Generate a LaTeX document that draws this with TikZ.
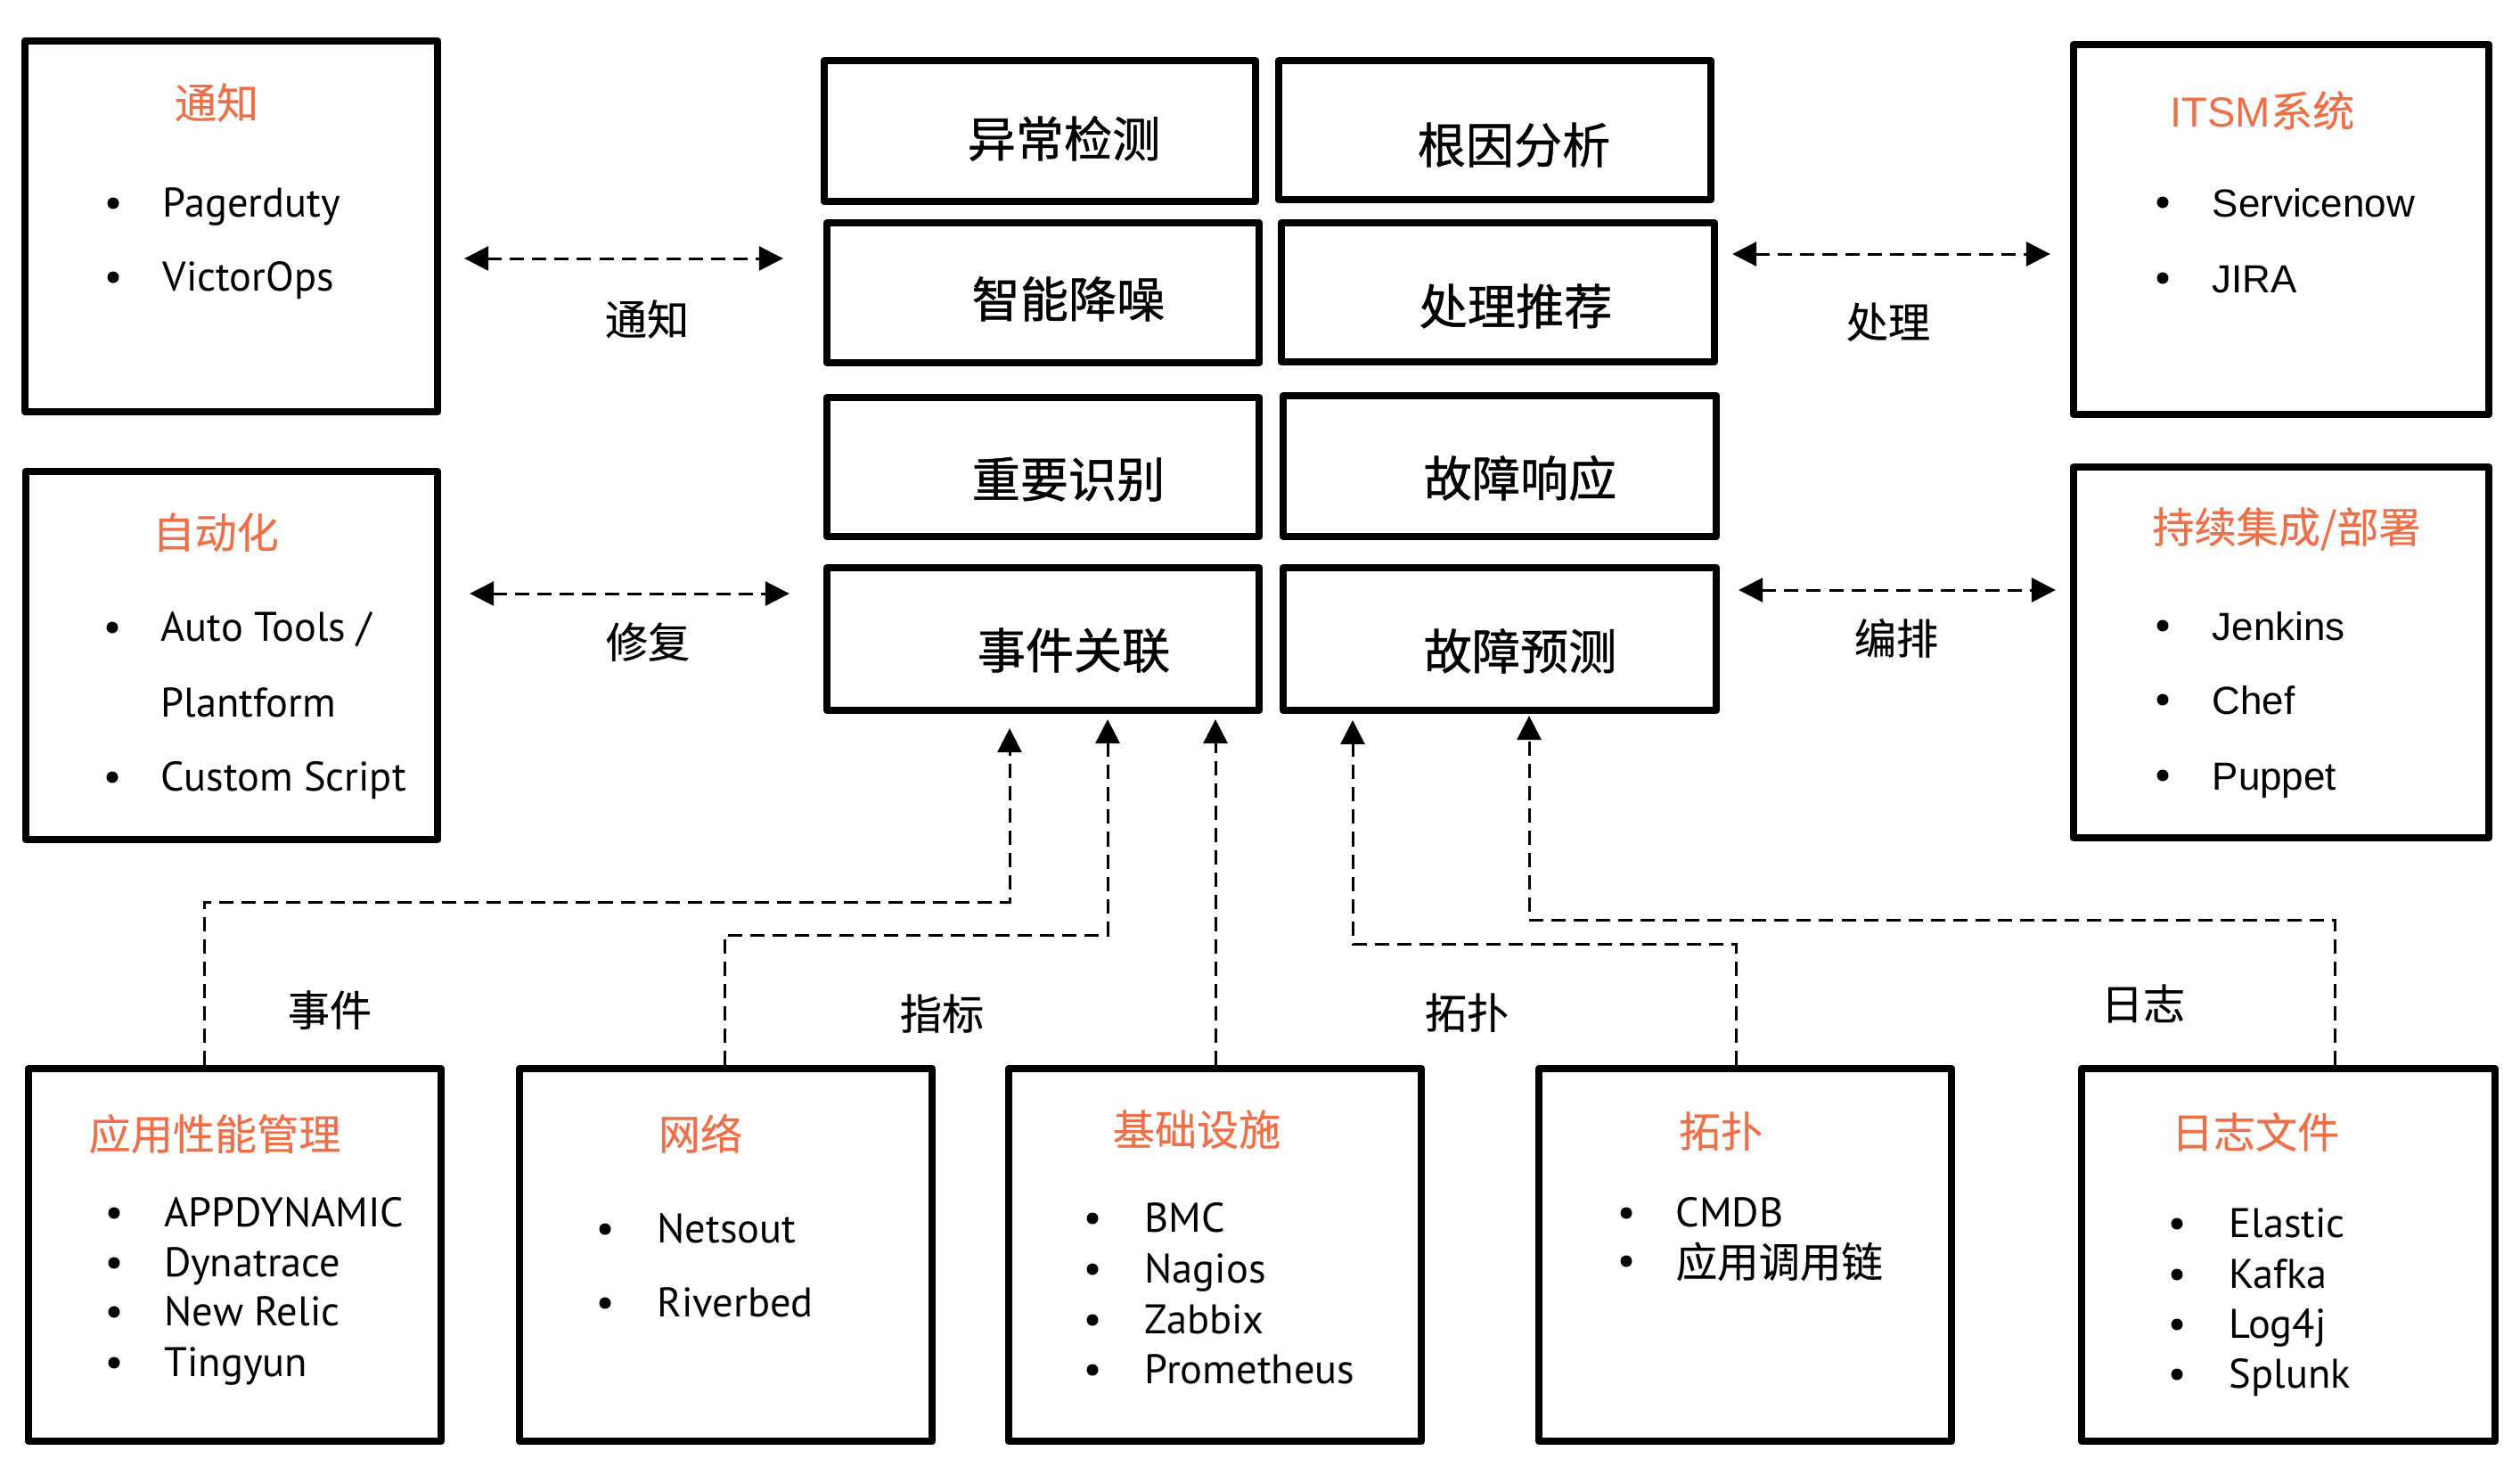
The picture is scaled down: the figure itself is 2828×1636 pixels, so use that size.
\documentclass[tikz,border=0pt]{standalone}
\usepackage{fontspec}
\setmainfont{Noto Sans CJK SC}
\newfontfamily\cjk{Noto Sans CJK SC}[FakeBold=0.3]
\newfontfamily\cjkb{Noto Sans CJK SC}[FakeBold=0.9]
\newfontfamily\pts{PT Sans}
\newfontfamily\lib{Liberation Sans}
\usetikzlibrary{arrows.meta}
\definecolor{orng}{RGB}{237,112,72}
\tikzset{
  box/.style={draw, line width=0.08cm, line join=round, inner sep=0pt},
  ttl/.style={font=\cjk\fontsize{13.4}{16}\selectfont, text=orng, anchor=base, inner sep=0pt},
  lbl/.style={font=\cjk\fontsize{13.4}{16}\selectfont, anchor=base, inner sep=0pt},
  midtxt/.style={font=\cjkb\fontsize{15.4}{18}\selectfont, anchor=base, inner sep=0pt},
  itm/.style={font=\pts\fontsize{13.2}{16}\selectfont, anchor=base west, inner sep=0pt},
  itc/.style={font=\cjk\fontsize{13.2}{16}\selectfont, anchor=base west, inner sep=0pt},
  itr/.style={font=\lib\fontsize{12.5}{15}\selectfont, anchor=base west, inner sep=0pt},
  dsh/.style={line width=0.03cm, dash pattern=on 0.16cm off 0.09cm},
  conn/.style={dsh, -{Triangle[length=0.27cm,width=0.27cm]}},
  biarr/.style={dsh, {Triangle[length=0.27cm,width=0.27cm]}-{Triangle[length=0.27cm,width=0.27cm]}},
  dot/.style={radius=0.065cm}
}
\begin{document}
\begin{tikzpicture}[x=0.01cm,y=-0.01cm]
\useasboundingbox (0,0) rectangle (2828,1636);
% ---------- boxes ----------
\node[box, minimum width=4.63cm, minimum height=4.16cm] (L1) at (259.5,254) {};
\node[box, minimum width=4.62cm, minimum height=4.13cm] (L2) at (260,735.5) {};
\node[box, minimum width=4.66cm, minimum height=4.15cm] (R1) at (2560,257.5) {};
\node[box, minimum width=4.66cm, minimum height=4.16cm] (R2) at (2560,732) {};
\node[box, minimum width=4.84cm, minimum height=1.58cm] (C1) at (1167,147) {};
\node[box, minimum width=4.85cm, minimum height=1.56cm] (C2) at (1677.5,146) {};
\node[box, minimum width=4.85cm, minimum height=1.57cm] (C3) at (1170.5,328.5) {};
\node[box, minimum width=4.86cm, minimum height=1.56cm] (C4) at (1681,328) {};
\node[box, minimum width=4.85cm, minimum height=1.56cm] (C5) at (1170.5,524) {};
\node[box, minimum width=4.86cm, minimum height=1.58cm] (C6) at (1683,523) {};
\node[box, minimum width=4.85cm, minimum height=1.60cm] (C7) at (1170.5,717) {};
\node[box, minimum width=4.86cm, minimum height=1.60cm] (C8) at (1683,717) {};
\node[box, minimum width=4.63cm, minimum height=4.18cm] (B1) at (263.5,1408) {};
\node[box, minimum width=4.63cm, minimum height=4.18cm] (B2) at (814.5,1408) {};
\node[box, minimum width=4.63cm, minimum height=4.18cm] (B3) at (1363.5,1408) {};
\node[box, minimum width=4.63cm, minimum height=4.18cm] (B4) at (1958.5,1408) {};
\node[box, minimum width=4.64cm, minimum height=4.18cm] (B5) at (2568,1408) {};
% ---------- centre texts ----------
\node[midtxt] (c1t) at (1194,176) {异常检测};
\node[midtxt] (c2t) at (1699,183) {根因分析};
\node[midtxt] (c3t) at (1199,356) {智能降噪};
\node[midtxt] (c4t) at (1701,364) {处理推荐};
\node[midtxt] (c5t) at (1199,558) {重要识别};
\node[midtxt] (c6t) at (1706,557) {故障响应};
\node[midtxt] (c7t) at (1205,750) {事件关联};
\node[midtxt] (c8t) at (1706,751) {故障预测};
% ---------- titles ----------
\node[ttl] (l1t) at (243,133) {通知};
\node[ttl] (l2t) at (242,615) {自动化};
\node[ttl] (r1t) at (2539,142) {{\lib ITSM}系统};
\node[ttl] (r2t) at (2566,609) {持续集成/部署};
\node[ttl] (b1t) at (241,1290) {应用性能管理};
\node[ttl] (b2t) at (786,1290) {网络};
\node[ttl] (b3t) at (1343,1285) {基础设施};
\node[ttl] (b4t) at (1931,1287) {拓扑};
\node[ttl] (b5t) at (2531,1288) {日志文件};
% ---------- list items ----------
\node[itm] (l1a) at (182,243) {Pagerduty};
\node[itm] (l1b) at (182,326) {VictorOps};
\fill (127,228) circle[dot]; \fill (127,311) circle[dot];
\node[itm] (l2a) at (180,719) {Auto Tools /};
\node[itm] (l2b) at (180,804) {Plantform};
\node[itm] (l2c) at (180,887) {Custom Script};
\fill (126,704) circle[dot]; \fill (126,872) circle[dot];
\node[itr] (r1a) at (2482,243) {Servicenow};
\node[itr] (r1b) at (2482,328) {JIRA};
\fill (2427,227) circle[dot]; \fill (2427,312) circle[dot];
\node[itr] (r2a) at (2482,718) {Jenkins};
\node[itr] (r2b) at (2482,801) {Chef};
\node[itr] (r2c) at (2482,886) {Puppet};
\fill (2427,702) circle[dot]; \fill (2427,785) circle[dot]; \fill (2427,870) circle[dot];
\node[itm] (b1a) at (184,1376) {APPDYNAMIC};
\node[itm] (b1b) at (184,1432) {Dynatrace};
\node[itm] (b1c) at (184,1487) {New Relic};
\node[itm] (b1d) at (184,1544) {Tingyun};
\fill (128,1361) circle[dot]; \fill (128,1417) circle[dot]; \fill (128,1472) circle[dot]; \fill (128,1529) circle[dot];
\node[itm] (b2a) at (737,1394) {Netsout};
\node[itm] (b2b) at (737,1477) {Riverbed};
\fill (679,1379) circle[dot]; \fill (679,1462) circle[dot];
\node[itm] (b3a) at (1284,1382) {BMC};
\node[itm] (b3b) at (1284,1439) {Nagios};
\node[itm] (b3c) at (1284,1496) {Zabbix};
\node[itm] (b3d) at (1284,1552) {Prometheus};
\fill (1226,1367) circle[dot]; \fill (1226,1424) circle[dot]; \fill (1226,1481) circle[dot]; \fill (1226,1537) circle[dot];
\node[itm] (b4a) at (1880,1376) {CMDB};
\node[itc] (b4b) at (1880,1433) {应用调用链};
\fill (1825,1361) circle[dot]; \fill (1825,1415) circle[dot];
\node[itm] (b5a) at (2501,1388) {Elastic};
\node[itm] (b5b) at (2501,1445) {Kafka};
\node[itm] (b5c) at (2501,1501) {Log4j};
\node[itm] (b5d) at (2501,1557) {Splunk};
\fill (2443,1373) circle[dot]; \fill (2443,1430) circle[dot]; \fill (2443,1486) circle[dot]; \fill (2443,1542) circle[dot];
% ---------- horizontal arrows ----------
\coordinate (ya) at (0,290);
\coordinate (yb) at (0,666);
\coordinate (yc) at (0,285);
\coordinate (yd) at (0,662);
\draw[biarr, shorten <=0.26cm, shorten >=0.45cm] (L1.east |- ya) -- (C3.west |- ya);
\draw[biarr, shorten <=0.32cm, shorten >=0.38cm] (L2.east |- yb) -- (C7.west |- yb);
\draw[biarr, shorten <=0.16cm, shorten >=0.22cm] (C4.east |- yc) -- (R1.west |- yc);
\draw[biarr, shorten <=0.21cm, shorten >=0.16cm] (C8.east |- yd) -- (R2.west |- yd);
\node[lbl] (n1) at (726,376) {通知};
\node[lbl] (n2) at (727,738) {修复};
\node[lbl] (n3) at (2119,379) {处理};
\node[lbl] (n4) at (2128,734) {编排};
% ---------- bottom connectors ----------
\coordinate (evA) at (229,1012);
\coordinate (evB) at (1133,1012);
\coordinate (mtA) at (813,1049);
\coordinate (mtB) at (1243,1049);
\coordinate (inA) at (1364,1100);
\coordinate (tpA) at (1948,1059);
\coordinate (tpB) at (1518,1059);
\coordinate (lgA) at (2620,1032);
\coordinate (lgB) at (1716,1032);
\draw[conn, shorten >=0.16cm] (B1.north -| evA) -- (evA) -- (evB) -- (evB |- C7.south);
\draw[conn, shorten >=0.06cm] (B2.north -| mtA) -- (mtA) -- (mtB) -- (mtB |- C7.south);
\draw[conn, shorten >=0.06cm] (B3.north -| inA) -- (inA |- C7.south);
\draw[conn, shorten >=0.07cm] (B4.north -| tpA) -- (tpA) -- (tpB) -- (tpB |- C8.south);
\draw[conn, shorten >=0.02cm] (B5.north -| lgA) -- (lgA) -- (lgB) -- (lgB |- C8.south);
\node[lbl] (e1) at (370,1151) {事件};
\node[lbl] (e2) at (1057,1155) {指标};
\node[lbl] (e3) at (1646,1154) {拓扑};
\node[lbl] (e4) at (2405,1144) {日志};
\end{tikzpicture}
\end{document}
